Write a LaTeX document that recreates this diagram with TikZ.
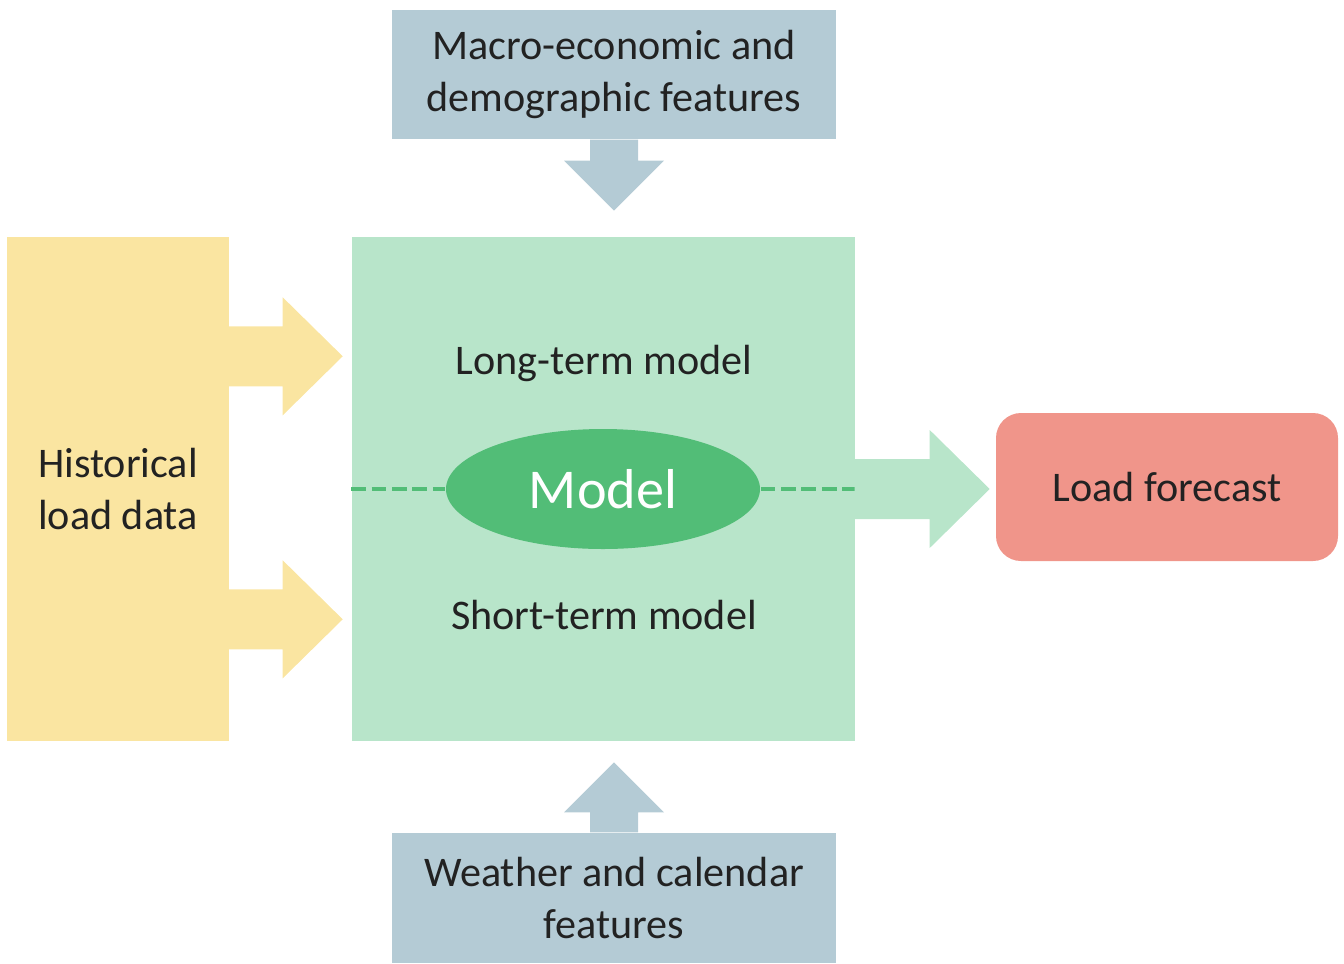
\documentclass[tikz,border=0pt]{standalone}
\usepackage{fontspec}
\setmainfont{Carlito}
\usetikzlibrary{calc,shapes.geometric}
\definecolor{featblue}{HTML}{B4CBD5}
\definecolor{histyellow}{HTML}{FAE5A1}
\definecolor{modelgreen}{HTML}{B8E5CA}
\definecolor{darkgreen}{HTML}{52BD77}
\definecolor{loadred}{HTML}{F0958A}
\definecolor{textgray}{HTML}{222222}
\tikzset{
  box/.style={rectangle, inner sep=0pt, align=center, text=textgray, font=\fontsize{12}{14.7}\selectfont},
  dashline/.style={draw=darkgreen, line width=1.4pt, dash pattern=on 4.2pt off 1.6pt}
}
\begin{document}
\begin{tikzpicture}[x=0.1mm, y=-0.1mm]
  \useasboundingbox (0,0) rectangle (1344,963);
  % boxes
  \node[box, fill=featblue, minimum width=44.4mm, minimum height=12.9mm] (macro) at (614,74.5) {Macro-economic and\\demographic features};
  \node[box, fill=histyellow, minimum width=22.2mm, minimum height=50.4mm] (hist) at (118,489) {Historical\\load data};
  \node[box, fill=modelgreen, minimum width=50.3mm, minimum height=50.4mm] (model) at (603.5,489) {};
  \node[box, fill=loadred, rounded corners=2.5mm, minimum width=34.2mm, minimum height=14.8mm] (load) at (1167,487) {Load forecast};
  \node[box, fill=featblue, minimum width=44.4mm, minimum height=13mm] (weather) at (614,898) {Weather and calendar\\features};
  % model inside
  \node[box] (long) at (604,363) {Long-term model};
  \node[box] (short) at (604,615) {Short-term model};
  \node[ellipse, fill=darkgreen, inner sep=0pt, minimum width=31.4mm, minimum height=12mm, text=white, font=\fontsize{16}{19}\selectfont] (core) at (603,489) {Model};
  \draw[dashline] (model.west) -- (core.west);
  \draw[dashline] (core.east) -- (model.east);
  % block arrows
  \fill[featblue] (macro.south) ++(-24,0) -- ++(0,21) -- ++(-26,0) -- ++(50,50) -- ++(50,-50) -- ++(-26,0) -- ++(0,-21) -- cycle;
  \fill[featblue] (weather.north) ++(-24,0) -- ++(0,-20) -- ++(-26,0) -- ++(50,-50) -- ++(50,50) -- ++(-26,0) -- ++(0,20) -- cycle;
  \fill[histyellow] ($(hist.north east)+(-1,120)$) ++(0,-30) -- ++(54,0) -- ++(0,-29) -- ++(60,59) -- ++(-60,59) -- ++(0,-29) -- ++(-54,0) -- cycle;
  \fill[histyellow] ($(hist.north east)+(-1,383)$) ++(0,-30) -- ++(54,0) -- ++(0,-29) -- ++(60,59) -- ++(-60,59) -- ++(0,-29) -- ++(-54,0) -- cycle;
  \fill[modelgreen] (model.east) ++(-1,-30) -- ++(75,0) -- ++(0,-29) -- ++(60,59) -- ++(-60,59) -- ++(0,-29) -- ++(-75,0) -- cycle;
\end{tikzpicture}
\end{document}
